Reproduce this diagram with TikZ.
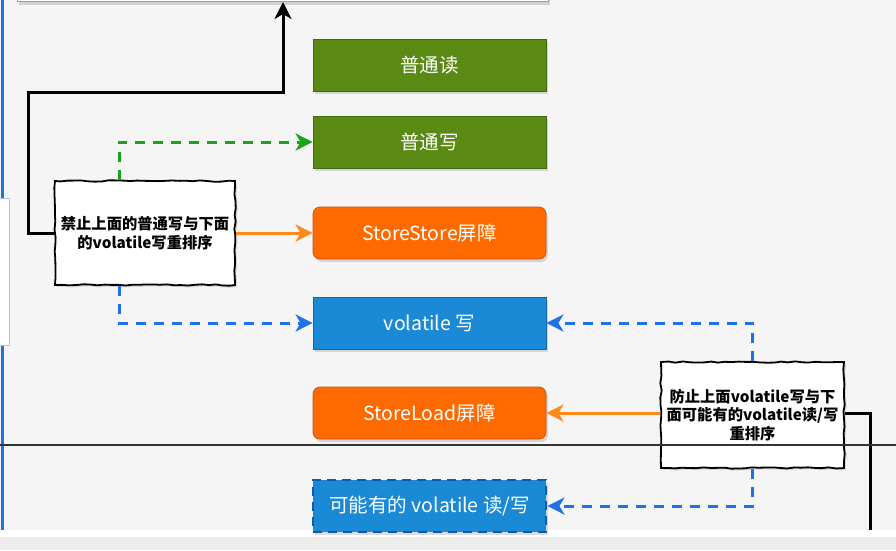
\documentclass[tikz,border=0pt]{standalone}
\usepackage{fontspec}
\newfontfamily\cjk{Noto Sans CJK SC}
\usetikzlibrary{arrows.meta,shadows,decorations.pathmorphing}
\definecolor{bg}{HTML}{F5F5F5}
\definecolor{bg2}{HTML}{ECECEC}
\definecolor{gfill}{HTML}{5A8A14}
\definecolor{gdraw}{HTML}{3F6A0E}
\definecolor{ofill}{HTML}{FF6A00}
\definecolor{odraw}{HTML}{C8560C}
\definecolor{bfill}{HTML}{1A8AD6}
\definecolor{bdraw}{HTML}{1266A8}
\definecolor{ddraw}{HTML}{0B5CB0}
\definecolor{garrow}{HTML}{1AA31A}
\definecolor{barrow}{HTML}{1F72E6}
\definecolor{oarrow}{HTML}{FF8A1A}
\definecolor{lblue}{HTML}{1F74E6}
\tikzset{
  x=1pt,y=1pt,
  box/.style={minimum width=233pt, minimum height=52pt, inner sep=0pt,
    font=\cjk\fontsize{19.5}{22}\selectfont, text=white, line width=0.8pt,
    drop shadow={shadow xshift=2pt, shadow yshift=-3pt, opacity=0.22, fill=black!60}},
  gbox/.style={box, fill=gfill, draw=gdraw},
  obox/.style={box, fill=ofill, draw=odraw, rounded corners=7pt},
  bbox/.style={box, fill=bfill, draw=bdraw},
  dbox/.style={box, fill=bfill, draw=ddraw, line width=2.8pt, dash pattern=on 9pt off 6pt},
  note/.style={draw=black, fill=white, line width=1.8pt, align=center, inner sep=2pt,
    font=\cjk\bfseries\fontsize{15.3}{18.5}\selectfont,
    decorate, decoration={random steps, segment length=7pt, amplitude=0.7pt},
    drop shadow={shadow xshift=2pt, shadow yshift=-2pt, opacity=0.2, fill=black!60}},
  tip/.style={-{Stealth[length=17pt,width=17pt,inset=5pt]}},
  gdash/.style={tip, draw=garrow, line width=3pt, dash pattern=on 10pt off 8pt},
  bdash/.style={tip, draw=barrow, line width=3pt, dash pattern=on 10pt off 8pt},
  oline/.style={tip, draw=oarrow, line width=3pt},
  kline/.style={draw=black, line width=3pt},
}
\begin{document}
\begin{tikzpicture}
\pgfmathsetseed{7}
\useasboundingbox (0,0) rectangle (896,-550);
\fill[bg] (0,0) rectangle (896,-530);
\fill[white] (0,-530) rectangle (896,-537);
\fill[bg2] (0,-537) rectangle (896,-550);
% left rail
\draw[lblue, line width=3pt] (2.5,0) -- (2.5,-530);
\node[draw=lblue!40, fill=white, line width=0.6pt, minimum width=10pt, minimum height=147pt, anchor=north west, inner sep=0pt] (tab) at (-1,-198) {};
% top box
\node[draw=black!45!blue!40, fill=white, line width=1pt, minimum width=531pt, minimum height=20pt, anchor=south west, inner sep=0pt,
  drop shadow={shadow xshift=1pt, shadow yshift=-3pt, opacity=0.25, fill=black!60}] (top) at (17,-2) {};
% boxes
\node[gbox] (r) at (429.5,-65) {普通读};
\node[gbox] (w) at (429.5,-142) {普通写};
\node[obox] (ss) at (429.5,-233) {StoreStore屏障};
\node[bbox] (vw) at (429.5,-323) {volatile 写};
\node[obox] (sl) at (429.5,-413) {StoreLoad屏障};
\node[dbox] (pv) at (429.5,-506) {可能有的 volatile 读/写};
% notes
\node[note, minimum width=180pt, minimum height=104pt] (n1) at (145,-233) {禁止上面的普通写与下面\\的volatile写重排序};
\node[note, minimum width=183pt, minimum height=106pt] (n2) at (752.5,-415) {防止上面volatile写与下\\面可能有的volatile读/写\\重排序};
% connectors
\coordinate (k1) at (28,-92);
\coordinate (k2) at (283,-92);
\draw[kline, tip] (n1.west) -| (k1) -- (k2) -- (k2 |- top.south);
\draw[gdash] ([xshift=-26pt]n1.north) |- (w.west);
\draw[bdash] ([xshift=-26pt]n1.south) |- (vw.west);
\draw[oline] (n1.east |- ss.west) -- (ss.west);
\draw[bdash] (n2.north) |- (vw.east);
\draw[oline] (n2.west |- sl.east) -- (sl.east);
\draw[bdash] (n2.south) |- (pv.east);
\coordinate (kb) at (870,-530);
\draw[kline] (n2.east |- sl.east) -| (kb);
% divider
\draw[black!80, line width=1.2pt] (0,-445) -- (896,-445);
\end{tikzpicture}
\end{document}
